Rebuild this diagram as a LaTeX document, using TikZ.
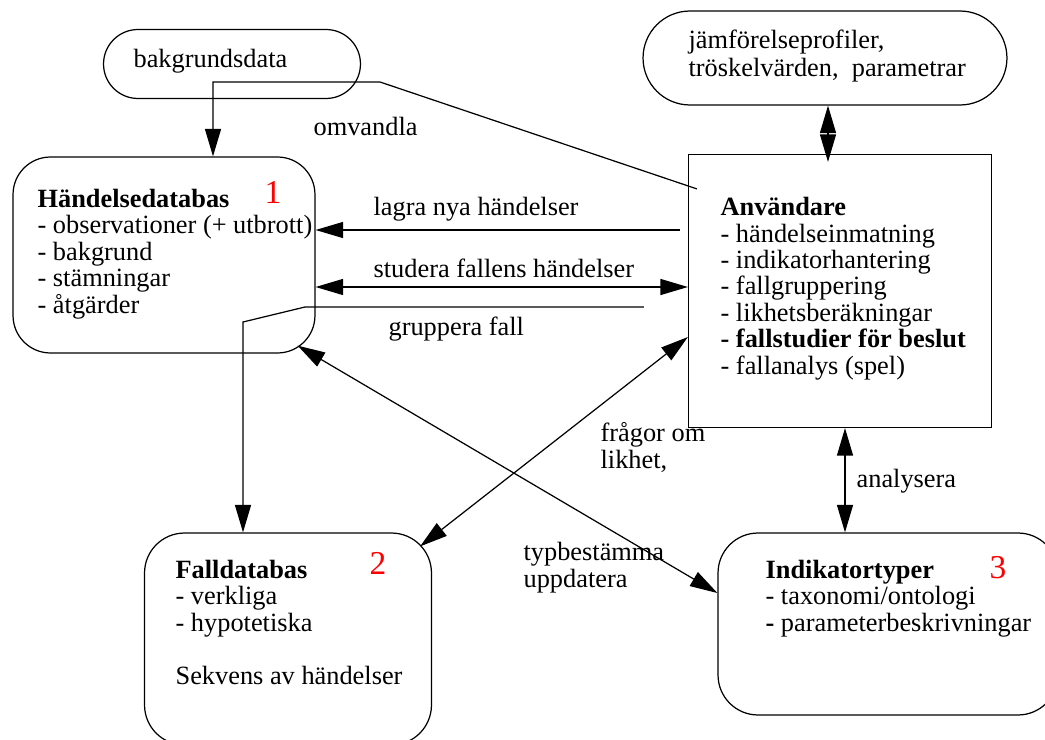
\documentclass[tikz,border=0pt]{standalone}
\usepackage{fontspec}
\setmainfont{Liberation Serif}
\usetikzlibrary{arrows.meta}

\begin{document}
\begin{tikzpicture}[x=0.02cm, y=-0.02cm, line width=0.7pt,%
        box/.style={draw, inner sep=0pt}, rbox/.style={box, rounded corners=0.75cm},%
        txt/.style={anchor=base west, align=left, inner sep=0pt, font=\fontsize{15}{15}\selectfont},%
        nr/.style={text=red, inner sep=0pt, font=\fontsize{19}{19}\selectfont},%
        arr/.style={-{Triangle[length=0.55cm,width=0.32cm]}},%
        darr/.style={{Triangle[length=0.55cm,width=0.32cm]}-{Triangle[length=0.55cm,width=0.32cm]}}]
        \useasboundingbox (0,0) rectangle (1045,740);
        % boxes
        \node[box, rounded corners=0.69cm, minimum width=5.14cm, minimum height=1.38cm] (bg) at (232,64) {};
        \node[box, rounded corners=0.94cm, minimum width=7.28cm, minimum height=1.88cm] (jfp) at (825,58) {};
        \node[rbox, minimum width=6.04cm, minimum height=3.92cm] (hdb) at (164,255) {};
        \node[box, minimum width=6.06cm, minimum height=5.46cm] (anv) at (840,291) {};
        \node[rbox, rounded corners=0.8cm, minimum width=5.74cm, minimum height=4.24cm] (fdb) at (288,639) {};
        \node[rbox, rounded corners=0.8cm, minimum width=6.8cm, minimum height=3.64cm] (ikt) at (888,624) {};
        % texts (base = last line)
        \node[txt] (bg-txt) at (133,68) {bakgrundsdata};
        \node[txt, font=\fontsize{15}{16.4}\selectfont] (jfp-txt) at (688,77) {jämförelseprofiler,\\tröskelvärden,\ \ parametrar};
        \node[txt] (hdb-txt) at (37,313) {\textbf{Händelsedatabas}\\- observationer (+ utbrott)\\- bakgrund\\- stämningar\\- åtgärder};
        \node[txt] (anv-txt) at (720,374) {\textbf{Användare}\\- händelseinmatning\\- indikatorhantering\\- fallgruppering\\- likhetsberäkningar\\\textbf{- fallstudier för beslut}\\- fallanalys (spel)};
        \node[txt] (fdb-txt) at (175,684) {\textbf{Falldatabas}\\- verkliga\\- hypotetiska\\[15pt]Sekvens av händelser};
        \node[txt] (ikt-txt) at (765,631) {\textbf{Indikatortyper}\\- taxonomi/ontologi\\\textbf{-} parameterbeskrivningar};
        \node[nr] (nr1) at (273,192) {1};
        \node[nr] (nr2) at (378,563) {2};
        \node[nr] (nr3) at (998,568) {3};
        % connectors
        \draw[arr] ([shift={(9,35)}]anv.north west) -- (380,82) -- (213,82) -- (hdb.north -| 213,0);
        \draw[arr] ([xshift=-0.16cm]anv.west |- 0,230) -- (hdb.east |- 0,230);
        \draw[darr] (hdb.east |- 0,287) -- (anv.west |- 0,287);
        \draw[arr] ([xshift=-0.88cm]anv.west |- 0,307) -- (305,307) -- (243,322) -- (fdb.north -| 243,0);
        \draw[darr] (anv.west |- 0,337) -- ([shift={(-12,14)}]fdb.north east);
        \draw[darr] ([shift={(-18,-8)}]hdb.south east) -- (ikt.west |- 0,593);
        \draw[darr] (anv.south -| 845,0) -- (ikt.north -| 845,0);
        \draw[darr] (jfp.south -| 828,0) -- ([yshift=-0.16cm]anv.north -| 828,0);
        % labels
        \node[txt] (l-omv) at (313,135) {omvandla};
        \node[txt] (l-lagra) at (373,215) {lagra nya händelser};
        \node[txt] (l-stud) at (373,277) {studera fallens händelser};
        \node[txt] (l-grupp) at (388,335) {gruppera fall};
        \node[txt] (l-fraga) at (600,468) {frågor om\\likhet,};
        \node[txt] (l-typ) at (523,587) {typbestämma\\uppdatera};
        \node[txt] (l-anal) at (856,487) {analysera};
\end{tikzpicture}
\end{document}
